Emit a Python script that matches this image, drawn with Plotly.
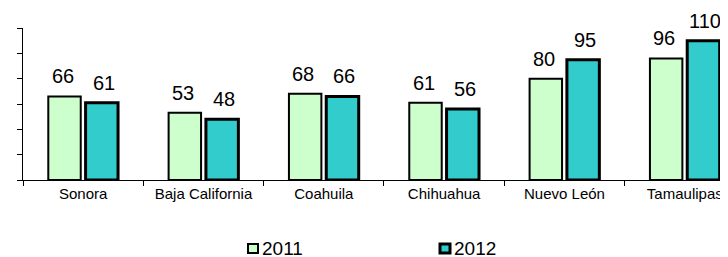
import plotly.graph_objects as go

categories = ["Sonora", "Baja California", "Coahuila", "Chihuahua", "Nuevo León", "Tamaulipas"]
values_2011 = [66, 53, 68, 61, 80, 96]
values_2012 = [61, 48, 66, 56, 95, 110]
series_names = ["2011", "2012"]
colors = ["#CCFFCC", "#33CCCC"]
line_widths = [2, 3]

OFF = 8  # page body margin
W, H = 728 - OFF, 257 - OFF
L, R, T, B = 23 - OFF, 0, 28 - OFF, 77
pw, ph = W - L - R, H - T - B

def px_x(px):
    return (px - OFF - L) / pw

def px_y(py):
    return (H - B - (py - OFF)) / ph

fig = go.Figure()
for name, vals, col, lw in zip(series_names, [values_2011, values_2012], colors, line_widths):
    fig.add_trace(go.Bar(
        x=categories, y=vals, name=name,
        marker=dict(color=col, line=dict(color="black", width=lw)),
        showlegend=False,
    ))

# value labels above bars
for vals, shift in [(values_2011, -20.5), (values_2012, 20.5)]:
    for i, v in enumerate(vals):
        fig.add_annotation(
            x=i, y=v, text=str(v), showarrow=False, xref="x", yref="y",
            xanchor="center", yanchor="bottom", xshift=shift, yshift=7,
            font=dict(size=20, color="black"),
        )

# legend
legend_x = [248, 440]
for name, col, lw, lx in zip(series_names, colors, line_widths, legend_x):
    fig.add_shape(
        type="rect", xref="paper", yref="paper",
        x0=px_x(lx), x1=px_x(lx + 10), y0=px_y(253), y1=px_y(244),
        fillcolor=col, line=dict(color="black", width=lw),
    )
    fig.add_annotation(
        x=px_x(lx + 13), y=px_y(248), xref="paper", yref="paper",
        text=name, showarrow=False, xanchor="left", yanchor="middle",
        height=18, borderpad=0, valign="middle",
        font=dict(size=19, color="black"),
    )

fig.update_layout(
    width=W, height=H,
    margin=dict(l=L, r=R, t=T, b=B, autoexpand=False),
    paper_bgcolor="white", plot_bgcolor="white",
    font=dict(family="Liberation Sans, Arial, sans-serif", color="black"),
    barmode="group", bargap=0.38, bargroupgap=0.13,
    showlegend=False,
)
fig.update_xaxes(
    range=[-0.5, 5.359], showline=True, linecolor="black", linewidth=1,
    ticks="outside", tickson="boundaries", ticklen=5, tickcolor="black",
    tickfont=dict(size=15), showgrid=False, automargin=False,
)
fig.update_yaxes(
    range=[0, 120], dtick=20, showline=True, linecolor="black", linewidth=1,
    ticks="outside", ticklen=5, tickcolor="black", showticklabels=False,
    showgrid=False, zeroline=False, automargin=False,
)

fig.write_html("out.html")
